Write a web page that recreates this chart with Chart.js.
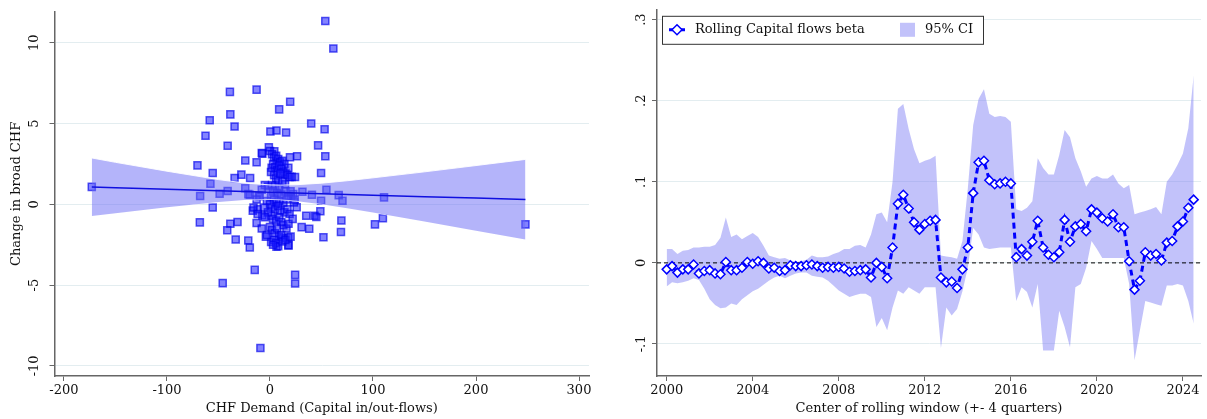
<!DOCTYPE html>
<html>
<head>
<meta charset="utf-8">
<script src="https://cdn.jsdelivr.net/npm/chart.js@4"></script>
<style>
  html, body { margin: 0; padding: 0; background: #fff; }
  #wrap { position: relative; width: 1207px; height: 419px; }
  .panel { position: absolute; top: 0; height: 419px; }
  #left { left: 0; width: 600px; }
  #right { left: 600px; width: 607px; }
</style>
</head>
<body>
<div id="wrap">
  <div class="panel" id="left"><canvas id="scatterChart"></canvas></div>
  <div class="panel" id="right"><canvas id="rollingChart"></canvas></div>
</div>
<script>
// ---- left panel: CHF demand vs change in broad CHF ----
const chfDemand = [
  -173, 53.7, 61.5, -38.9, -13, 19.6, 8.9, -58.5, -38.5, -34.4, -62.6, -41.1, 0.4, 6.3, 15.6, 40, 53, 46.7,
  53.7, 26.3, -1.1, -7.4, -24, -13, -70.4, -55.6, -27.8, -34.4, -19.3, 49.6, -57.8, -41.1, -48.9, -67.8,
  -24, -19.6, -11, 31.5, 40.7, 54.8, 66.7, 70.4, 49.6, 110.7, -55.6, -68.1, -38.5, -31.5, -13, -7.4, -16.7,
  -41.5, -33.3, -21.1, -19.6, 35.2, 43.3, 48.9, 30.7, 38.1, 51.9, 69.3, 68.9, 101.9, 109.6, 248, 25.9,
  -14.8, -45.9, 24.4, 24.4, -9.3, 18, 12.6, 6.3, 1.1, 23.3, 20.4, 19.4, 17.8, 24.3, -21, 45, 17.8, 17.8,
  14.6, 22.6, 4.2, 1.6, 6.5, -8,
  0, 2, 4, 6, 8, 10, 12, 14, 3, 5, 7, 9, 11, 13, 15, 17, 19, 21, 1, 4, 6, 8, 10, 12, 2, 5, 9, -2, -5, -8,
  3, 7, 11, 15, 18, 20, 1, 4, 6, 9, 13, 16, -3, 0, 2, 5, 8, 10, 14, 17, 19, 1, 3, 6, 9, 11, 13, 16, 18,
  0, 2, 5, 7, 9, 11, 4, 6, 8, 12, 3, -4, -2, -6, -10, -12, 22, 24, 15, 20, -13, -16, -12, -5, -8, -3
];
const chfChange = [
  1.08, 11.35, 9.65, 6.96, 7.1, 6.35, 5.88, 5.2, 5.57, 4.82, 4.24, 3.63, 4.51, 4.57, 4.45, 5.0, 4.65, 3.65,
  2.98, 2.98, 3.53, 3.14, 2.71, 2.61, 2.41, 1.94, 1.84, 1.63, 1.63, 1.94, 1.27, 0.82, 0.65, 0.51,
  1.0, 0.59, 0.53, 0.78, 0.59, 0.9, 0.57, 0.22, 0.22, 0.43, -0.2, -1.12, -1.2, -1.1, -1.16, -0.69, -0.39,
  -1.61, -2.18, -2.24, -2.67, -0.71, -0.71, -0.43, -1.41, -1.51, -2.04, -1.0, -1.71, -1.24, -0.86, -1.24, -0.18,
  -4.06, -4.88, -4.37, -4.9, -8.9, -2.55, -2.08, -2.63, -2.33, 0.12, 0.47, 2.91, 2.26, 1.69, 0.63, -0.78, -2.06, -2.53,
  1.24, 0.63, 3.28, 2.26, 2.67, 3.18,
  3.3, 3.1, 2.9, 3.0, 2.8, 2.6, 2.7, 2.5, 2.5, 2.3, 2.1, 2.4, 2.2, 2.0, 1.9, 1.8, 1.7, 1.7, 2.0, 1.8, 1.6, 1.5, 1.9, 1.4, 1.2, 1.1, 1.0, 1.1, 1.2, 0.9,
  0.8, 0.7, 0.6, 0.8, 0.5, 0.8, 0.5, 0.3, 0.1, 0.2, 0.1, 0.3, 0.2, 0.0, -0.2, -0.3, -0.1, -0.4, -0.5, -0.3, -0.6, -0.7, -0.9, -1.0, -0.8, -1.1, -1.3, -1.5, -1.2,
  -1.4, -1.6, -1.8, -1.5, -2.0, -1.9, -2.2, -2.4, -2.6, -2.3, -2.5, -2.0, -0.5, -0.2, 0.5, -0.3, -0.9, 0.3, -2.2, -2.0, 0.3, -0.2, -0.6, -0.8, -1.5, -1.9
];
// fitted line and 95% band, read at a few x positions
const fitX = [-173, -150, -100, -50, -25, 0, 10, 25, 50, 75, 100, 150, 200, 248];
const fitY = [1.067, 1.025, 0.933, 0.842, 0.796, 0.750, 0.732, 0.704, 0.659, 0.613, 0.567, 0.476, 0.384, 0.296];
const fitUpper = [2.87, 2.60, 2.05, 1.53, 1.32, 1.20, 1.19, 1.21, 1.31, 1.46, 1.64, 2.01, 2.40, 2.78];
const fitLower = [-0.73, -0.56, -0.18, 0.15, 0.27, 0.30, 0.28, 0.20, 0.01, -0.24, -0.50, -1.06, -1.63, -2.18];
const demandTicks = [-200, -100, 0, 100, 200, 300];
const changeTicks = [-10, -5, 0, 5, 10];

// ---- right panel: rolling beta ----
const quarters = [
  2000, 2000.25, 2000.5, 2000.75, 2001, 2001.25, 2001.5, 2001.75,
  2002, 2002.25, 2002.5, 2002.75, 2003, 2003.25, 2003.5, 2003.75,
  2004, 2004.25, 2004.5, 2004.75, 2005, 2005.25, 2005.5, 2005.75,
  2006, 2006.25, 2006.5, 2006.75, 2007, 2007.25, 2007.5, 2007.75,
  2008, 2008.25, 2008.5, 2008.75, 2009, 2009.25, 2009.5, 2009.75,
  2010, 2010.25, 2010.5, 2010.75, 2011, 2011.25, 2011.5, 2011.75,
  2012, 2012.25, 2012.5, 2012.75, 2013, 2013.25, 2013.5, 2013.75,
  2014, 2014.25, 2014.5, 2014.75, 2015, 2015.25, 2015.5, 2015.75,
  2016, 2016.25, 2016.5, 2016.75, 2017, 2017.25, 2017.5, 2017.75,
  2018, 2018.25, 2018.5, 2018.75, 2019, 2019.25, 2019.5, 2019.75,
  2020, 2020.25, 2020.5, 2020.75, 2021, 2021.25, 2021.5, 2021.75,
  2022, 2022.25, 2022.5, 2022.75, 2023, 2023.25, 2023.5, 2023.75,
  2024, 2024.25, 2024.5
];
const betaValues = [
  -0.008, -0.004, -0.012, -0.008, -0.008, -0.002, -0.013, -0.010,
  -0.009, -0.013, -0.014, 0.001, -0.009, -0.009, -0.006, 0.001,
  -0.001, 0.002, 0.000, -0.007, -0.006, -0.010, -0.009, -0.003,
  -0.004, -0.004, -0.003, -0.002, -0.004, -0.006, -0.005, -0.006,
  -0.005, -0.007, -0.011, -0.010, -0.009, -0.008, -0.018, 0.000,
  -0.005, -0.019, 0.019, 0.073, 0.084, 0.067, 0.050, 0.041,
  0.048, 0.052, 0.053, -0.018, -0.024, -0.023, -0.031, -0.008,
  0.019, 0.086, 0.124, 0.126, 0.102, 0.097, 0.098, 0.100,
  0.098, 0.007, 0.017, 0.009, 0.026, 0.052, 0.019, 0.010,
  0.007, 0.013, 0.053, 0.026, 0.045, 0.048, 0.039, 0.066,
  0.062, 0.055, 0.051, 0.060, 0.044, 0.044, 0.002, -0.033,
  -0.022, 0.013, 0.009, 0.011, 0.003, 0.025, 0.027, 0.045,
  0.051, 0.068, 0.078
];
const ciUpper = [
  0.017, 0.017, 0.011, 0.015, 0.016, 0.019, 0.019, 0.020,
  0.020, 0.022, 0.031, 0.056, 0.032, 0.035, 0.029, 0.033,
  0.037, 0.032, 0.021, 0.009, 0.007, 0.005, 0.006, 0.003,
  0.001, 0.002, 0.004, 0.009, 0.007, 0.007, 0.008, 0.011,
  0.013, 0.017, 0.017, 0.021, 0.022, 0.019, 0.035, 0.060,
  0.062, 0.050, 0.100, 0.190, 0.196, 0.165, 0.140, 0.123,
  0.126, 0.128, 0.132, 0.009, 0.008, 0.007, 0.005, 0.027,
  0.092, 0.170, 0.202, 0.214, 0.184, 0.180, 0.181, 0.180,
  0.174, 0.066, 0.064, 0.068, 0.076, 0.129, 0.117, 0.109,
  0.109, 0.133, 0.164, 0.155, 0.129, 0.113, 0.094, 0.104,
  0.107, 0.104, 0.104, 0.109, 0.098, 0.092, 0.096, 0.060,
  0.062, 0.064, 0.066, 0.069, 0.060, 0.100, 0.109, 0.121,
  0.135, 0.166, 0.231
];
const ciLower = [
  -0.029, -0.024, -0.025, -0.024, -0.022, -0.019, -0.021, -0.032,
  -0.045, -0.052, -0.056, -0.055, -0.050, -0.052, -0.045, -0.040,
  -0.035, -0.032, -0.027, -0.022, -0.018, -0.016, -0.019, -0.016,
  -0.013, -0.012, -0.012, -0.016, -0.017, -0.018, -0.022, -0.028,
  -0.034, -0.038, -0.042, -0.040, -0.038, -0.038, -0.042, -0.079,
  -0.068, -0.083, -0.055, -0.034, -0.038, -0.030, -0.034, -0.038,
  -0.030, -0.030, -0.030, -0.105, -0.055, -0.065, -0.057, -0.035,
  -0.006, 0.043, 0.035, 0.019, 0.017, 0.018, 0.019, 0.019,
  0.019, -0.047, -0.030, -0.036, -0.055, -0.026, -0.108, -0.108,
  -0.108, -0.059, -0.079, -0.104, -0.030, -0.026, -0.006, 0.027,
  0.017, 0.006, 0.006, 0.006, 0.006, 0.006, -0.026, -0.120,
  -0.083, -0.047, -0.049, -0.051, -0.053, -0.028, -0.028, -0.026,
  -0.028, -0.047, -0.075
];
const yearTicks = [2000, 2004, 2008, 2012, 2016, 2020, 2024];
const betaTicks = [-0.1, 0, 0.1, 0.2, 0.3];
const betaTickLabels = ['-.1', '0', '.1', '.2', '.3'];

const font = { family: "'DejaVu Serif', serif", size: 13 };
const textColor = '#111';
const axisGray = '#666';
const gridTint = '#e3edf0';

const fixedTicks = values => scale => { scale.ticks = values.map(v => ({ value: v })); };
const pts = (xs, ys) => xs.map((x, i) => ({ x, y: ys[i] }));

Chart.defaults.animation = false;

new Chart(document.getElementById('scatterChart'), {
    type: 'scatter',
    data: {
        datasets: [
            { type: 'line', data: pts(fitX, fitY), borderColor: '#1010e0', borderWidth: 1.5, pointRadius: 0, order: 0 },
            { type: 'line', data: pts(fitX, fitUpper), borderColor: 'rgba(255,255,255,0.9)', borderWidth: 1,
              pointRadius: 0, fill: '+1', backgroundColor: 'rgba(105,105,245,0.5)', order: 1 },
            { type: 'line', data: pts(fitX, fitLower), borderColor: 'rgba(255,255,255,0.9)', borderWidth: 1,
              pointRadius: 0, fill: false, order: 2 },
            { data: pts(chfDemand, chfChange), pointStyle: 'rect', pointRadius: 5,
              backgroundColor: 'rgba(30,30,255,0.55)', borderColor: 'rgba(0,0,235,0.65)', borderWidth: 1.5, order: 3 }
        ]
    },
    options: {
        responsive: true,
        maintainAspectRatio: false,
        layout: { padding: { top: 7, right: 11, left: 0, bottom: 0 } },
        plugins: { legend: { display: false }, tooltip: { enabled: false } },
        scales: {
            x: {
                type: 'linear', min: -209.2, max: 309.7,
                afterBuildTicks: fixedTicks(demandTicks),
                afterFit: s => { s.height = 43; },
                border: { color: axisGray, width: 1.5 },
                grid: { drawOnChartArea: false, tickColor: axisGray, tickLength: 5 },
                ticks: { font, color: textColor, padding: 2, maxRotation: 0, callback: v => String(v) },
                title: { display: true, text: 'CHF Demand (Capital in/out-flows)', font, color: textColor, padding: { top: 0, bottom: 3 } }
            },
            y: {
                type: 'linear', min: -10.63, max: 11.92,
                afterBuildTicks: fixedTicks(changeTicks),
                afterFit: s => { s.width = 54.5; },
                border: { color: axisGray, width: 1.5 },
                grid: { color: gridTint, tickColor: axisGray, tickLength: 5 },
                ticks: { font, color: textColor, padding: 4, minRotation: 90, maxRotation: 90, crossAlign: 'center', callback: v => String(v) },
                title: { display: true, text: 'Change in broad CHF', font, color: textColor, padding: { top: 9, bottom: 0 } }
            }
        }
    }
});

// Stata-style legend box in the top-left corner of the plot area
const legendBox = {
    id: 'legendBox',
    afterDatasetsDraw(chart) {
        const { ctx, chartArea } = chart;
        const x = chartArea.left + 5, y = chartArea.top + 6;
        const mid = y + 14;
        ctx.save();
        ctx.fillStyle = '#fff';
        ctx.fillRect(x, y, 321, 28);
        ctx.strokeStyle = '#333';
        ctx.lineWidth = 1;
        ctx.strokeRect(x + 0.5, y + 0.5, 321, 28);
        // line + marker sample
        ctx.strokeStyle = '#0000ff';
        ctx.lineWidth = 3;
        ctx.setLineDash([6, 4]);
        ctx.beginPath();
        ctx.moveTo(x + 7, mid);
        ctx.lineTo(x + 27, mid);
        ctx.stroke();
        ctx.setLineDash([]);
        ctx.fillStyle = '#fff';
        ctx.lineWidth = 1.5;
        ctx.beginPath();
        ctx.moveTo(x + 15, mid - 5);
        ctx.lineTo(x + 20, mid);
        ctx.lineTo(x + 15, mid + 5);
        ctx.lineTo(x + 10, mid);
        ctx.closePath();
        ctx.fill();
        ctx.stroke();
        ctx.font = "13px 'DejaVu Serif', serif";
        ctx.fillStyle = textColor;
        ctx.textAlign = 'left';
        ctx.textBaseline = 'middle';
        ctx.fillText('Rolling Capital flows beta', x + 33, mid);
        // CI swatch
        ctx.fillStyle = 'rgba(120,120,245,0.45)';
        ctx.fillRect(x + 238, mid - 7, 15, 14);
        ctx.fillStyle = textColor;
        ctx.fillText('95% CI', x + 263, mid);
        ctx.restore();
    }
};

new Chart(document.getElementById('rollingChart'), {
    type: 'line',
    data: {
        datasets: [
            { data: pts(quarters, betaValues), borderColor: '#0000ff', borderWidth: 3, borderDash: [6, 4],
              pointStyle: 'rectRot', pointRadius: 4.5, pointBackgroundColor: '#fff', pointBorderColor: '#0000ff',
              pointBorderWidth: 1.5, tension: 0, order: 0 },
            { data: pts([1999.55, 2024.84], [0, 0]), borderColor: '#000', borderWidth: 1, borderDash: [4, 3],
              pointRadius: 0, order: 1 },
            { data: pts(quarters, ciUpper), borderColor: 'transparent', borderWidth: 0, pointRadius: 0,
              fill: '+1', backgroundColor: 'rgba(120,120,245,0.45)', order: 2 },
            { data: pts(quarters, ciLower), borderColor: 'transparent', borderWidth: 0, pointRadius: 0,
              fill: false, order: 3 }
        ]
    },
    options: {
        responsive: true,
        maintainAspectRatio: false,
        layout: { padding: { top: 7, right: 2, left: 0, bottom: 0 } },
        plugins: { legend: { display: false }, tooltip: { enabled: false } },
        scales: {
            x: {
                type: 'linear', min: 1999.55, max: 2024.84,
                afterBuildTicks: fixedTicks(yearTicks),
                afterFit: s => { s.height = 43; },
                border: { color: axisGray, width: 1.5 },
                grid: { drawOnChartArea: false, tickColor: axisGray, tickLength: 5 },
                ticks: { font, color: textColor, padding: 2, maxRotation: 0, callback: v => String(v) },
                title: { display: true, text: 'Center of rolling window (+- 4 quarters)', font, color: textColor, padding: { top: 0, bottom: 3 } }
            },
            y: {
                type: 'linear', min: -0.1395, max: 0.3121,
                afterBuildTicks: fixedTicks(betaTicks),
                afterFit: s => { s.width = 57; },
                border: { color: axisGray, width: 1.5 },
                grid: { color: gridTint, tickColor: axisGray, tickLength: 5 },
                ticks: { font, color: textColor, padding: 2, minRotation: 90, maxRotation: 90, crossAlign: 'center',
                         callback: (v, i) => betaTickLabels[i] }
            }
        }
    },
    plugins: [legendBox]
});
</script>
</body>
</html>
